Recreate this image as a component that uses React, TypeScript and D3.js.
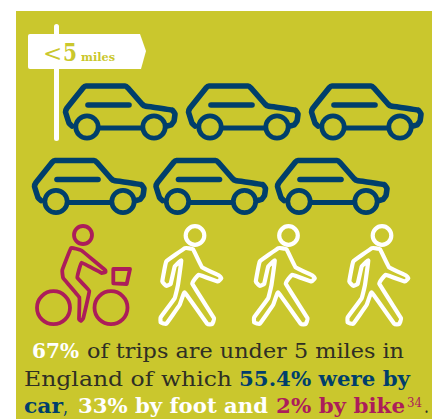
import * as d3 from 'd3';

const WIDTH = 438;
const HEIGHT = 419;

const PANEL = '#cac72d';
const NAVY = '#003f6b';
const CRIMSON = '#ac1d5a';
const INK = '#2f2f24';
const SERIF = '"DejaVu Serif", serif';

const carRows = [[0, 1, 2], [0, 1, 2]];
const walkers = [0, 1, 2];

type Run = { text: string; color: string; weight?: number; sup?: boolean };

const line1: Run[] = [
  { text: '67%', color: '#fff', weight: 700 },
  { text: 'of trips are under 5 miles in', color: INK },
];
const line2: Run[] = [
  { text: 'England of which', color: INK },
  { text: '55.4% were by', color: NAVY, weight: 700 },
];
const line3: Run[] = [
  { text: 'car', color: NAVY, weight: 700 },
  { text: ',', color: NAVY },
  { text: '33% by foot and', color: '#fff', weight: 700 },
  { text: '2% by bike', color: CRIMSON, weight: 700 },
  { text: '34', color: CRIMSON, sup: true },
  { text: '.', color: INK },
];
const textLines = [line1, line2, line3];

// left/right edge of each run
const lineSpans = [
  [[32, 79], [87, 404]],
  [[24, 232], [239, 410]],
  [[24, 63], [63, 68], [78, 268], [276, 405], [407, 422], [424, 429]],
];
const lineBase = [358, 386, 413];

// icon outlines in px, origin at rear wheel / head centre
const carBody: [number, number][] = [
  [-15, -1], [-18, -4], [-21.5, -15], [-20, -19], [-4, -39], [-1, -41], [38, -41], [41, -39], [55, -23], [58, -21],
  [85, -17], [88, -13], [87, -6], [84, -2], [80, -1],
];
const carFloor: [number, number][] = [[13, 1], [55, 1]];
const carWindow: [number, number][] = [[1, -22], [42, -22]];
const wheelOffsets = [0, 67];

const bikeBody: [number, number][] = [
  [-12, 13], [-1.5, 15.5], [22, 35], [22.5, 37], [18.5, 38], [-1.5, 27.5], [-5.7, 42.7], [6.3, 56], [0.3, 83], [-2, 86],
  [-4, 84], [-3.7, 62.3], [-19.7, 43.3], [-20.7, 35],
];
const bikeBox: [number, number][] = [[30.3, 34], [47, 34], [43.7, 49], [30.3, 48.3]];
const bikeWheels = [-29.5, 28];

const walkBody: [number, number][] = [
  [-10, 12.7], [-2, 13.7], [7, 31.7], [24, 40], [26.3, 42.7], [23, 46], [3.7, 39.3], [-2.7, 48.3], [19, 82.7],
  [17, 88.7], [12.3, 88.3], [-10.3, 57], [-15.3, 69.3], [-28.7, 88.3], [-34.3, 87], [-34.3, 81.7], [-20.3, 62.7],
  [-17, 49.3], [-13.7, 25], [-20.3, 31], [-24.3, 48.3], [-28.7, 50.3], [-32.7, 46], [-28.7, 26],
];

const closed = d3.line().curve(d3.curveCardinalClosed.tension(0.8));
const polygon = d3.line().curve(d3.curveLinearClosed);
const open = d3.line().curve(d3.curveCardinal.tension(0.8));

const carX = [
  d3.scaleLinear().domain([0, 2]).range([87, 333]),
  d3.scaleLinear().domain([0, 2]).range([56, 299]),
];
const carY = d3.scaleLinear().domain([0, 1]).range([127, 201.5]);
const walkerX = d3.scaleLinear().domain([0, 2]).range([195, 382]);

function Car({ x, y }: { x: number; y: number }) {
  return (
    <g transform={`translate(${x},${y})`} fill="none" stroke={NAVY} strokeWidth={5.6} strokeLinecap="round" strokeLinejoin="round">
      <path d={open(carBody) as string} />
      <path d={open(carFloor) as string} strokeWidth={5} />
      <path d={open(carWindow) as string} />
      {wheelOffsets.map(o => (
        <circle key={o} cx={o} r={11.2} strokeWidth={4.8} />
      ))}
    </g>
  );
}

function Cyclist({ x }: { x: number }) {
  return (
    <g transform={`translate(${x},235)`} fill="none" stroke={CRIMSON} strokeWidth={3.8} strokeLinejoin="round">
      <circle r={9} />
      <path d={closed(bikeBody) as string} />
      <path d={polygon(bikeBox) as string} />
      {bikeWheels.map(o => (
        <circle key={o} cx={o} cy={72.7} r={16.5} />
      ))}
    </g>
  );
}

function Walker({ x }: { x: number }) {
  return (
    <g transform={`translate(${x},235.5)`} fill="none" stroke="#fff" strokeWidth={4.2} strokeLinejoin="round">
      <circle r={9.3} />
      <path d={closed(walkBody) as string} />
    </g>
  );
}

export default function App() {
  return (
    <svg width={WIDTH} height={HEIGHT} viewBox={`0 0 ${WIDTH} ${HEIGHT}`} style={{ position: 'absolute', left: 0, top: 0 }}>
      <rect x={16} y={11} width={416} height={408} fill={PANEL} />

      {/* sign post */}
      <rect x={54} y={24} width={5} height={117} rx={2.5} fill="#fff" />
      <path d="M30,34H140L146,51L141,69H30Q28,69 28,67V36Q28,34 30,34Z" fill="#fff" />
      <text x={43} y={60.5} fontFamily={SERIF} fontSize={23} fill={PANEL}>
        &lt;
      </text>
      <text x={63} y={61} fontFamily={SERIF} fontSize={25} fontWeight={700} textLength={14} lengthAdjust="spacingAndGlyphs" fill={PANEL}>
        5
      </text>
      <text x={81} y={61} fontFamily={SERIF} fontSize={11} fontWeight={700} textLength={34} lengthAdjust="spacingAndGlyphs" fill={PANEL}>
        miles
      </text>

      {carRows.map((row, r) =>
        row.map(c => <Car key={`${r}-${c}`} x={carX[r](c)} y={carY(r)} />),
      )}

      <Cyclist x={83} />
      {walkers.map(w => (
        <Walker key={w} x={walkerX(w)} />
      ))}

      {textLines.map((runs, i) =>
        runs.map((run, j) => {
          const [x0, x1] = lineSpans[i][j];
          return (
            <text
              key={`${i}-${j}`}
              x={x0}
              y={run.sup ? lineBase[i] - 6 : lineBase[i]}
              fontFamily={SERIF}
              fontSize={run.sup ? 13 : 21}
              fontWeight={run.weight ?? 400}
              fill={run.color}
              textLength={x1 - x0}
              lengthAdjust="spacingAndGlyphs"
            >
              {run.text}
            </text>
          );
        }),
      )}
    </svg>
  );
}
